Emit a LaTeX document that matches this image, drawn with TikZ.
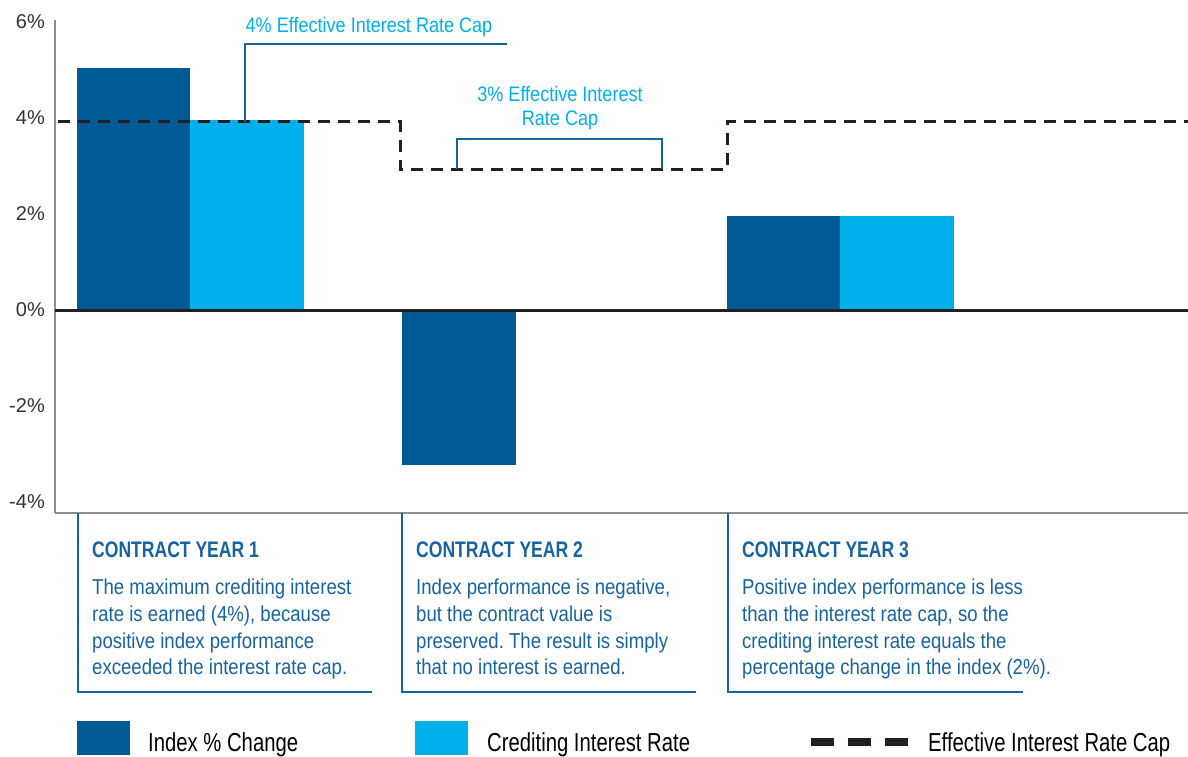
\documentclass[tikz,border=0pt]{standalone}
\usepackage{fontspec}
\setmainfont{Liberation Sans}
\newfontfamily\condfont{Liberation Sans}[FakeStretch=0.86]
\newfontfamily\narrowfont{Liberation Sans}[FakeStretch=0.78]
\usetikzlibrary{positioning}
\definecolor{indexBlue}{HTML}{005A96}
\definecolor{rateBlue}{HTML}{00B0EA}
\definecolor{textBlue}{HTML}{1763A0}
\definecolor{capBlack}{HTML}{231F20}
\definecolor{axisGray}{HTML}{8C8C8C}
\frenchspacing

\begin{document}
\begin{tikzpicture}[x=1pt,y=-1pt,%%
  tickStyle/.style={anchor=east,inner sep=0pt,text=black!80,font=\fontsize{20}{24}\selectfont},%%
  capStyle/.style={capBlack,line width=3pt,dash pattern=on 12pt off 8pt},%%
  calloutStyle/.style={textBlue,line width=2.5pt},%%
  calloutLabel/.style={inner sep=0pt,align=center,text=rateBlue,font=\condfont\fontsize{21}{24}\selectfont},%%
  boxStyle/.style={textBlue,line width=2.5pt},%%
  headStyle/.style={anchor=base west,inner sep=0pt,text=textBlue,font=\narrowfont\bfseries\fontsize{22.5}{24}\selectfont},%%
  bodyStyle/.style={anchor=north west,inner sep=0pt,align=left,text=textBlue,font=\condfont\fontsize{21.6}{26.7}\selectfont},%%
  keyStyle/.style={minimum width=53pt,minimum height=34pt,inner sep=0pt},%%
  legendText/.style={inner sep=0pt,text=black,font=\narrowfont\fontsize{26}{28}\selectfont}%%
]
\useasboundingbox (0,0) rectangle (1188,757);
%%
%% The scale of the chart.
\pgfmathsetmacro{\yzero}{310}
\pgfmathsetmacro{\yunit}{48}
\pgfmathsetmacro{\xaxis}{55}
\pgfmathsetmacro{\xend}{1188}
\pgfmathsetmacro{\ybottom}{513}
\pgfmathsetmacro{\ycapfour}{\yzero-4*\yunit+4}
\pgfmathsetmacro{\ycapthree}{\yzero-3*\yunit+3}
%%
%% Axis and tick labels.
\draw[axisGray,line width=1.5pt] (\xaxis,20) -- (\xaxis,\ybottom);
\draw[axisGray,line width=1.5pt] (\xaxis,\ybottom) -- (\xend,\ybottom);
\foreach \v/\lab in {6/6,4/4,2/2,0/0,-2/-2,-4/-4}
  \node[tickStyle] (tick\lab) at (45,{\yzero-\yunit*\v}) {\lab\%};
%%
%% Bars for the three contract years.
\fill[indexBlue] (77,{\yzero-5.05*\yunit}) rectangle (190,\yzero);
\fill[rateBlue] (190,\ycapfour-2) rectangle (304,\yzero);
\fill[indexBlue] (402,\yzero) rectangle (516,{\yzero+3.22*\yunit});
\fill[indexBlue] (727,{\yzero-1.95*\yunit}) rectangle (840,\yzero);
\fill[rateBlue] (840,{\yzero-1.95*\yunit}) rectangle (954,\yzero);
%% The zero line.
\draw[capBlack,line width=3pt] (\xaxis,\yzero) -- (\xend,\yzero);
%%
%% The effective interest rate cap.
\draw[capStyle] (\xaxis+3,\ycapfour) -- (400,\ycapfour) -- (400,\ycapthree)
  -- (727,\ycapthree) -- (727,\ycapfour) -- (\xend,\ycapfour);
%%
%% Callout for the 4% cap.
\coordinate (capFourFoot) at (245,\ycapfour);
\coordinate (capFourEnd) at (507,44);
\draw[calloutStyle] (capFourFoot) |- (capFourEnd);
\node[calloutLabel] (capFour) at (369,27) {4\% Effective Interest Rate Cap};
%% Callout for the 3% cap.
\coordinate (capThreeLeft) at (457,\ycapthree);
\coordinate (capThreeRight) at (662,\ycapthree);
\draw[calloutStyle] (capThreeLeft) -- ++(0,-30) -| (capThreeRight);
\node[calloutLabel] (capThree) at (560,108) {3\% Effective Interest\\Rate Cap};
%%
%% Text boxes below the chart.
\draw[boxStyle] (78,\ybottom) -- (78,692) -- (372,692);
\node[headStyle] (headOne) at (92,557) {CONTRACT YEAR 1};
\node[bodyStyle] (bodyOne) at (92,579) {The maximum crediting interest\\rate is earned (4\%), because\\positive index performance\\exceeded the interest rate cap.};
%%
\draw[boxStyle] (402,\ybottom) -- (402,692) -- (696,692);
\node[headStyle] (headTwo) at (416,557) {CONTRACT YEAR 2};
\node[bodyStyle] (bodyTwo) at (416,579) {Index performance is negative,\\but the contract value is\\preserved. The result is simply\\that no interest is earned.};
%%
\draw[boxStyle] (728,\ybottom) -- (728,692) -- (1023,692);
\node[headStyle] (headThree) at (742,557) {CONTRACT YEAR 3};
\node[bodyStyle] (bodyThree) at (742,579) {Positive index performance is less\\than the interest rate cap, so the\\crediting interest rate equals the\\percentage change in the index (2\%).};
%%
%% Legend.
\node[keyStyle,fill=indexBlue] (keyIndex) at (103.5,738) {};
\node[legendText,anchor=west] (labIndex) at (148,745) {Index \% Change};
\node[keyStyle,fill=rateBlue] (keyRate) at (441.5,738) {};
\node[legendText,anchor=west] (labRate) at (487,745) {Crediting Interest Rate};
\coordinate (keyCapStart) at (811,742);
\coordinate (keyCapEnd) at (908,742);
\draw[capBlack,line width=8pt,dash pattern=on 23pt off 14pt] (keyCapStart) -- (keyCapEnd);
\node[legendText,anchor=west] (labCap) at (928,745) {Effective Interest Rate Cap};
\end{tikzpicture}
\end{document}
